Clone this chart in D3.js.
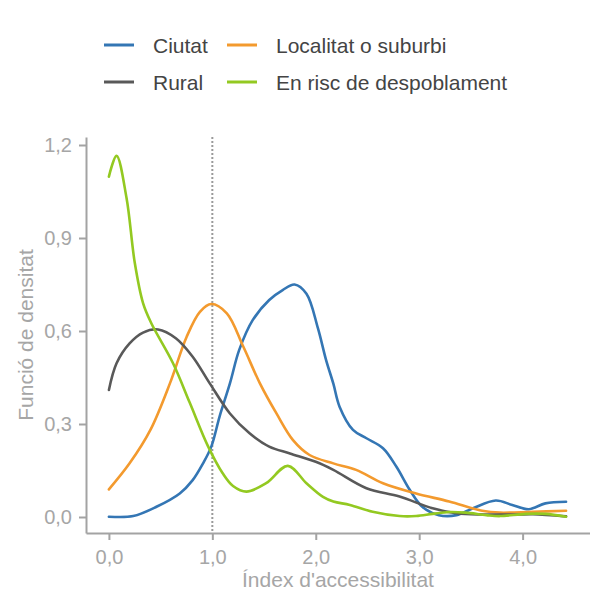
<!DOCTYPE html>
<html>
<head>
<meta charset="utf-8">
<script src="https://cdn.jsdelivr.net/npm/d3@7"></script>
<style>
  html, body { margin: 0; padding: 0; background: #fff; }
  svg { display: block; font-family: "Liberation Sans", Arial, sans-serif; }
</style>
</head>
<body>
<svg id="chart" width="590" height="594"></svg>
<script>
// ---- Data ----
const seriesNames = ["Ciutat", "Localitat o suburbi", "Rural", "En risc de despoblament"];
const seriesColors = ["#3476b4", "#f39a2e", "#595959", "#93c921"];

const ciutat = [[0,0.001],[0.235,0.003],[0.46,0.033],[0.685,0.076],[0.81,0.119],[0.91,0.173],[0.99,0.227],
  [1.07,0.324],[1.17,0.431],[1.26,0.539],[1.39,0.635],[1.55,0.70],[1.68,0.732],[1.795,0.75],[1.91,0.72],
  [2.02,0.61],[2.10,0.506],[2.17,0.43],[2.23,0.356],[2.36,0.281],[2.49,0.254],[2.65,0.222],[2.78,0.162],
  [2.91,0.087],[3.03,0.033],[3.19,0.006],[3.36,0.006],[3.52,0.028],[3.74,0.053],[3.90,0.039],[4.06,0.025],
  [4.22,0.044],[4.42,0.049]];
const localitat = [[0,0.089],[0.20,0.173],[0.40,0.28],[0.59,0.431],[0.75,0.58],[0.88,0.662],[0.99,0.687],
  [1.14,0.657],[1.30,0.549],[1.46,0.431],[1.62,0.334],[1.78,0.248],[1.94,0.2],[2.17,0.173],[2.39,0.152],
  [2.65,0.109],[2.97,0.076],[3.29,0.05],[3.61,0.02],[3.78,0.014],[4.1,0.017],[4.42,0.02]];
const rural = [[0,0.41],[0.074,0.496],[0.20,0.56],[0.33,0.595],[0.476,0.605],[0.65,0.576],[0.81,0.517],
  [0.975,0.431],[1.17,0.334],[1.36,0.27],[1.55,0.227],[1.75,0.205],[2.0,0.178],[2.17,0.152],[2.49,0.093],
  [2.81,0.066],[3.13,0.028],[3.36,0.012],[3.62,0.008],[3.94,0.008],[4.1,0.009],[4.42,0.002]];
const despoblament = [[0,1.098],[0.074,1.165],[0.17,1.03],[0.25,0.82],[0.33,0.69],[0.41,0.625],[0.62,0.496],
  [0.78,0.37],[0.96,0.227],[1.10,0.141],[1.20,0.10],[1.33,0.082],[1.52,0.109],[1.73,0.165],[1.91,0.109],
  [2.07,0.065],[2.17,0.05],[2.33,0.039],[2.55,0.017],[2.81,0.003],[2.97,0.003],[3.13,0.01],[3.29,0.016],
  [3.45,0.014],[3.65,0.006],[3.78,0.003],[4.03,0.01],[4.22,0.01],[4.42,0.001]];
const seriesData = [ciutat, localitat, rural, despoblament];

const xTicks = [0, 1, 2, 3, 4];
const yTicks = [0, 0.3, 0.6, 0.9, 1.2];
const refLineX = 1.0;
const xTitle = "Índex d'accessibilitat";
const yTitle = "Funció de densitat";

// ---- Layout ----
const svg = d3.select("#chart");
const pLeft = 86, pRight = 590, pTop = 137, pBottom = 533;
const axisColor = "#a3a3a3";
const textColor = "#a6a6a6";

const x = d3.scaleLinear().domain([-0.2215, 4.6515]).range([pLeft, pRight]);
const y = d3.scaleLinear().domain([-0.0516, 1.2258]).range([pBottom, pTop]);
const fmt = d => d.toFixed(1).replace(".", ",");

// reference line
svg.append("line")
  .attr("x1", x(refLineX)).attr("x2", x(refLineX))
  .attr("y1", pTop).attr("y2", pBottom)
  .attr("stroke", "#9a9a9a").attr("stroke-width", 2)
  .attr("stroke-dasharray", "2,2");

// curves
const line = d3.line().x(d => x(d[0])).y(d => y(d[1])).curve(d3.curveCatmullRom.alpha(0.5));
seriesData.forEach((s, i) => {
  svg.append("path").datum(s)
    .attr("d", line)
    .attr("fill", "none")
    .attr("stroke", seriesColors[i])
    .attr("stroke-width", 2.6)
    .attr("stroke-linejoin", "round")
    .attr("stroke-linecap", "round");
});

// axes
const xAxis = svg.append("g").attr("transform", `translate(0,${pBottom})`)
  .call(d3.axisBottom(x).tickValues(xTicks).tickFormat(fmt).tickSize(7).tickSizeOuter(0).tickPadding(10));
const yAxis = svg.append("g").attr("transform", `translate(${pLeft},0)`)
  .call(d3.axisLeft(y).tickValues(yTicks).tickFormat(fmt).tickSize(7).tickSizeOuter(0).tickPadding(7));
[xAxis, yAxis].forEach(g => {
  g.select(".domain").attr("stroke", axisColor).attr("stroke-width", 2);
  g.selectAll(".tick line").attr("stroke", axisColor).attr("stroke-width", 2);
  g.selectAll(".tick text").attr("fill", textColor).attr("font-size", 20)
    .attr("font-family", "'Liberation Sans', Arial, sans-serif");
});

// axis titles
svg.append("text").attr("x", (pLeft + pRight) / 2).attr("y", 587)
  .attr("text-anchor", "middle").attr("font-size", 21).attr("fill", textColor).text(xTitle);
svg.append("text").attr("transform", `translate(33,${(pTop + pBottom) / 2}) rotate(-90)`)
  .attr("text-anchor", "middle").attr("font-size", 21).attr("fill", textColor).text(yTitle);

// legend
const legendPos = [[104, 45], [227, 45], [104, 82], [227, 82]];
seriesNames.forEach((name, i) => {
  const [lx, ly] = legendPos[i];
  svg.append("line").attr("x1", lx).attr("x2", lx + 30).attr("y1", ly).attr("y2", ly)
    .attr("stroke", seriesColors[i]).attr("stroke-width", 3);
  svg.append("text").attr("x", lx + 49).attr("y", ly + 8)
    .attr("font-size", 21).attr("fill", "#444").text(name);
});
</script>
</body>
</html>
